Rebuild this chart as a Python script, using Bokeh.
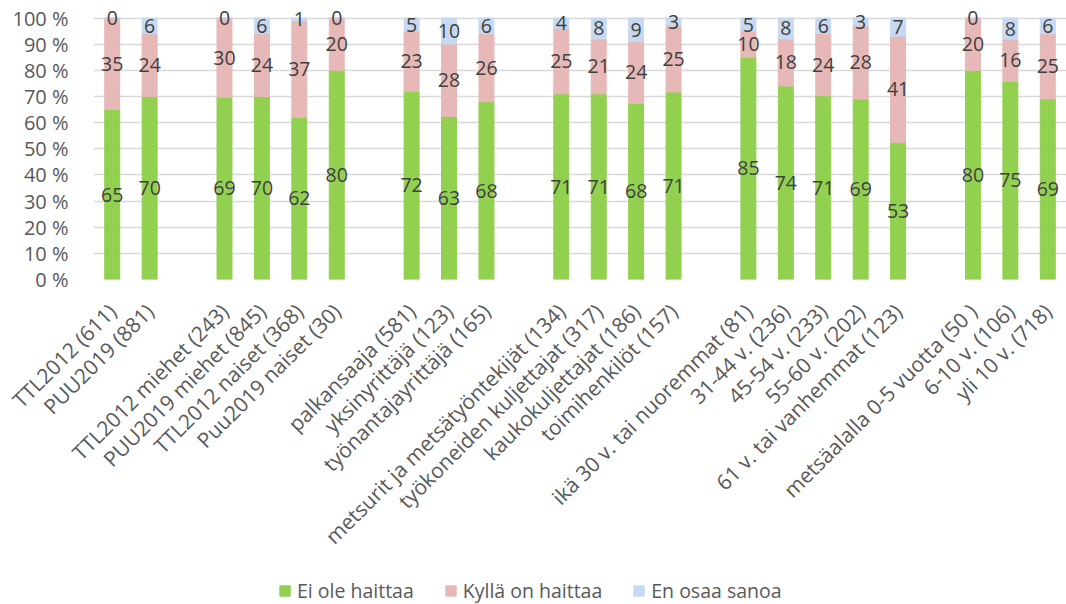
import math
import numpy as np
from bokeh.plotting import figure
from bokeh.layouts import column
from bokeh.models import FactorRange, FixedTicker, Legend, LegendItem, ColumnDataSource
from bokeh.core.properties import value
from bokeh.embed import file_html
from bokeh.resources import INLINE

categories = [
    "TTL2012 (611)", "PUU2019 (881)",
    "TTL2012 miehet (243)", "PUU2019 miehet (845)", "TTL2012 naiset (368)", "Puu2019 naiset (30)",
    "palkansaaja (581)", "yksinyrittäjä (123)", "työnantajayrittäjä (165)",
    "metsurit ja metsätyöntekijät (134)", "työkoneiden kuljettajat (317)", "kaukokuljettajat (186)", "toimihenkilöt (157)",
    "ikä 30 v. tai nuoremmat (81)", "31-44 v. (236)", "45-54 v. (233)", "55-60 v. (202)", "61 v. tai vanhemmat (123)",
    "metsäalalla 0-5 vuotta (50 )", "6-10 v. (106)", "yli 10 v. (718)",
]
group_sizes = [2, 4, 3, 4, 5, 3]
ei_ole = [65, 70, 69, 70, 62, 80, 72, 63, 68, 71, 71, 68, 71, 85, 74, 71, 69, 53, 80, 75, 69]
kylla = [35, 24, 30, 24, 37, 20, 23, 28, 26, 25, 21, 24, 25, 10, 18, 24, 28, 41, 20, 16, 25]
en_osaa = [0, 6, 0, 6, 1, 0, 5, 10, 6, 4, 8, 9, 3, 5, 8, 6, 3, 7, 0, 8, 6]
series_names = ["Ei ole haittaa", "Kyllä on haittaa", "En osaa sanoa"]
colors = ["#92D050", "#E6B8B7", "#C6D9F1"]
y_ticks = list(range(0, 101, 10))

FONT = "Open Sans"

# factors with blank gaps between groups
factors = []
i = 0
for g, n in enumerate(group_sizes):
    if g > 0:
        factors.append(" " * g)
    factors.extend(categories[i:i + n])
    i += n

series = [ei_ole, kylla, en_osaa]
keys = ["ei", "ky", "en"]
totals = [a + b + c for a, b, c in zip(*series)]
data = {"x": categories}
for k, s in zip(keys, series):
    data[k] = [v / t * 100 for v, t in zip(s, totals)]
src = ColumnDataSource(data)

# label positions (segment centres)
lx, ly, lt = [], [], []
for j, cat in enumerate(categories):
    bottom = 0.0
    for k, s in zip(keys, series):
        h = data[k][j]
        lx.append(cat)
        ly.append(bottom + h / 2)
        lt.append(str(s[j]))
        bottom += h
lsrc = ColumnDataSource(dict(x=lx, y=ly, t=lt))

p = figure(width=1066, height=574, x_range=FactorRange(factors=factors), y_range=(0, 106.7),
           output_backend="svg", toolbar_location=None,
           min_border_left=93, min_border_right=0, min_border_top=0, min_border_bottom=295,
           outline_line_color=None)

renderers = p.vbar_stack(keys, x="x", width=0.4, color=colors, source=src)

p.text(x="x", y="y", text="t", source=lsrc, text_align="center", text_baseline="middle",
       text_font=value(FONT), text_font_size=value("19.5px"), text_color="#404040")

p.ygrid.ticker = FixedTicker(ticks=y_ticks)
p.ygrid.grid_line_color = "#D9D9D9"
p.ygrid.grid_line_width = 1.5
p.xgrid.grid_line_color = None

p.yaxis.ticker = FixedTicker(ticks=y_ticks)
p.yaxis.major_label_overrides = {t: f"{t} %" for t in y_ticks}
p.yaxis.axis_line_color = None
p.yaxis.major_tick_line_color = None
p.yaxis.minor_tick_line_color = None
p.yaxis.major_tick_out = 0
p.yaxis.major_tick_in = 0
p.yaxis.major_label_standoff = 25
p.yaxis.major_label_text_font = FONT
p.yaxis.major_label_text_font_size = "20px"
p.yaxis.major_label_text_color = "#595959"

p.xaxis.axis_line_color = None
p.xaxis.major_tick_line_color = None
p.xaxis.major_tick_out = 0
p.xaxis.major_tick_in = 0
p.xaxis.major_label_orientation = math.pi / 4
p.xaxis.major_label_standoff = 28
p.xaxis.major_label_text_font = FONT
p.xaxis.major_label_text_font_size = "21px"
p.xaxis.major_label_text_color = "#595959"

# legend strip below the chart (its renderers draw nothing: NaN data)
p2 = figure(width=1066, height=30, x_range=(0, 1), y_range=(0, 1),
            output_backend="svg", toolbar_location=None,
            min_border_left=0, min_border_right=0, min_border_top=0, min_border_bottom=0,
            outline_line_color=None)
p2.xaxis.visible = False
p2.yaxis.visible = False
p2.xgrid.visible = False
p2.ygrid.visible = False
nan_src = ColumnDataSource(dict(x=np.array([np.nan]), top=np.array([np.nan])))
legend_renderers = [p2.vbar(x="x", top="top", width=0.1, color=c, source=nan_src) for c in colors]
legend = Legend(items=[LegendItem(label=n, renderers=[r]) for n, r in zip(series_names, legend_renderers)],
                orientation="horizontal", location=(185, 0),
                glyph_width=13, glyph_height=13, label_standoff=6, spacing=30,
                padding=0, margin=0, border_line_color=None, background_fill_alpha=0,
                label_text_font=FONT, label_text_font_size="19.5px", label_text_color="#595959")
p2.add_layout(legend)

layout = column(p, p2, spacing=0)
open("out.html", "w").write(file_html(layout, INLINE))
